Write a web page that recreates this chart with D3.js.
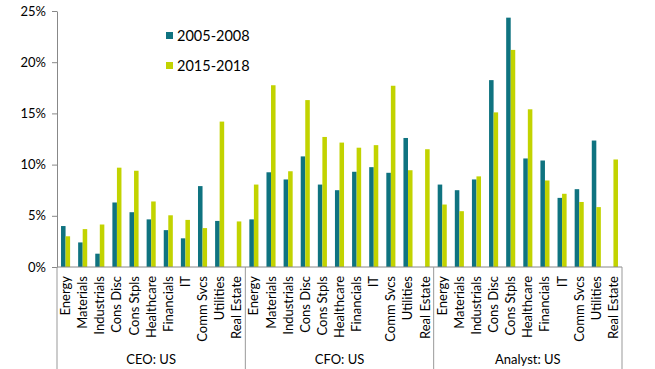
<!DOCTYPE html>
<html><head><meta charset="utf-8">
<script src="https://cdn.jsdelivr.net/npm/d3@7"></script>
<style>body{margin:0;background:#fff;} text{font-family:"Lato","Open Sans",sans-serif;fill:#000;}</style>
</head><body>
<svg id="c" width="655" height="369"></svg>
<script>
const groups = ["CEO: US", "CFO: US", "Analyst: US"];
const categories = ["Energy","Materials","Industrials","Cons Disc","Cons Stpls","Healthcare","Financials","IT","Comm Svcs","Utilities","Real Estate"];
const seriesNames = ["2005-2008", "2015-2018"];
const yTicks = [0, 5, 10, 15, 20, 25];
// values in %, null = no bar
const ceo2005 = [4.0, 2.4, 1.3, 6.3, 5.35, 4.65, 3.6, 2.8, 7.9, 4.5, null];
const ceo2015 = [3.0, 3.7, 4.15, 9.7, 9.4, 6.4, 5.05, 4.6, 3.8, 14.2, 4.45];
const cfo2005 = [4.65, 9.25, 8.55, 10.8, 8.05, 7.5, 9.3, 9.75, 9.2, 12.6, null];
const cfo2015 = [8.05, 17.75, 9.35, 16.3, 12.7, 12.15, 11.65, 11.9, 17.7, 9.45, 11.5];
const ana2005 = [8.05, 7.5, 8.55, 18.25, 24.35, 10.6, 10.4, 6.75, 7.6, 12.35, null];
const ana2015 = [6.1, 5.45, 8.85, 15.1, 21.2, 15.4, 8.45, 7.15, 6.35, 5.85, 10.5];
const colors = ["#0f7380", "#c2d300"];

const data = [[ceo2005, ceo2015], [cfo2005, cfo2015], [ana2005, ana2015]];

const svg = d3.select("#c");
const mLeft = 57, mRight = 622, mTop = 11, mBottom = 267;
const y = d3.scaleLinear().domain([0, 25]).range([mBottom, mTop]);
const xg = d3.scaleBand().domain(groups).range([mLeft, mRight]).padding(0);
const xc = d3.scaleBand().domain(categories).range([0, xg.bandwidth()]).paddingInner(0.47).paddingOuter(0.235);
const xs = d3.scaleBand().domain(seriesNames).range([0, xc.bandwidth()]);

// bars
groups.forEach((g, gi) => {
  const gEl = svg.append("g").attr("transform", `translate(${xg(g)},0)`);
  seriesNames.forEach((s, si) => {
    const vals = data[gi][si];
    gEl.selectAll(null).data(categories.map((c, i) => ({c, v: vals[i]})).filter(d => d.v != null))
      .enter().append("rect")
      .attr("x", d => xc(d.c) + xs(s))
      .attr("width", xs.bandwidth())
      .attr("y", d => y(d.v))
      .attr("height", d => mBottom - y(d.v))
      .attr("fill", colors[si]);
  });
});

// y axis
const yAxis = d3.axisLeft(y).tickValues(yTicks).tickFormat(d => d + "%").tickSize(5).tickSizeOuter(0);
const ya = svg.append("g").attr("transform", `translate(${mLeft},0)`).call(yAxis);
ya.select(".domain").attr("stroke", "#888");
ya.selectAll(".tick line").attr("stroke", "#888");
ya.selectAll(".tick text").attr("font-size", 13).attr("x", -11).style("font-family", '"Lato",sans-serif');

// x baseline
svg.append("line").attr("x1", mLeft).attr("x2", mRight).attr("y1", mBottom).attr("y2", mBottom).attr("stroke", "#888");
// group separators
const seps = groups.map(g => xg(g)).concat([xg(groups[groups.length-1]) + xg.bandwidth()]);
svg.selectAll(null).data(seps).enter().append("line")
  .attr("x1", d => d).attr("x2", d => d).attr("y1", mBottom).attr("y2", 369)
  .attr("stroke", "#999");

// category labels
groups.forEach(g => {
  svg.append("g").selectAll(null).data(categories).enter().append("text")
    .attr("transform", d => `translate(${xg(g) + xc(d) + xc.bandwidth()/2 + 4.5},${mBottom + 9}) rotate(-90)`)
    .attr("text-anchor", "end")
    .attr("font-size", 13)
    .text(d => d);
});
// group labels
svg.selectAll(null).data(groups).enter().append("text")
  .attr("x", d => xg(d) + xg.bandwidth()/2)
  .attr("y", 364)
  .attr("text-anchor", "middle")
  .attr("font-size", 13)
  .text(d => d);

// legend
const lg = svg.append("g");
seriesNames.forEach((s, i) => {
  lg.append("rect").attr("x", 166).attr("y", 32 + i*30).attr("width", 7).attr("height", 7).attr("fill", colors[i]);
  lg.append("text").attr("x", 177).attr("y", 41 + i*30).attr("font-size", 14.5).text(s);
});
</script>
</body></html>
